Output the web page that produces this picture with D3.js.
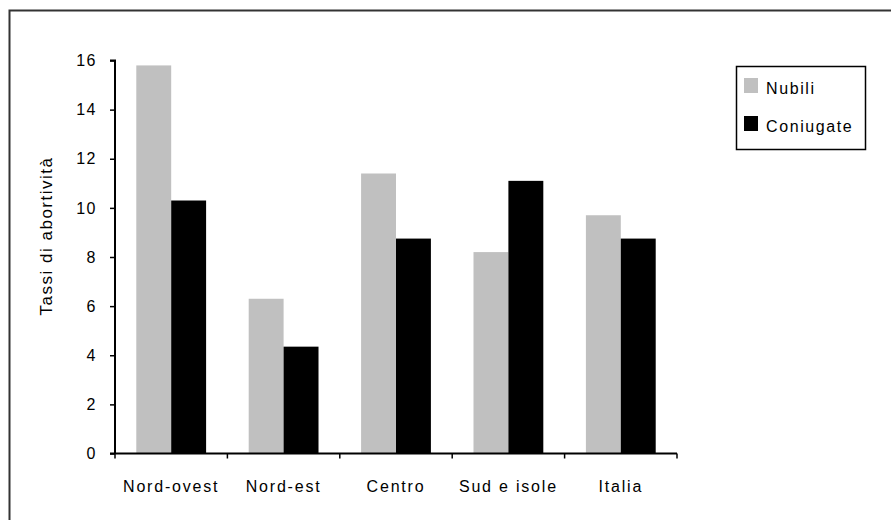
<!DOCTYPE html>
<html>
<head>
<meta charset="utf-8">
<script src="https://cdn.jsdelivr.net/npm/d3@7"></script>
<style>
  html, body { margin: 0; padding: 0; background: #fff; }
  svg { display: block; font-family: "Liberation Sans", Arial, sans-serif; }
</style>
</head>
<body>
<svg id="chart" width="891" height="520"></svg>
<script>
// Tassi di abortività per area geografica e stato civile
const categories = ["Nord-ovest", "Nord-est", "Centro", "Sud e isole", "Italia"];
const nubili = [15.8, 6.3, 11.4, 8.2, 9.7];
const coniugate = [10.3, 4.35, 8.75, 11.1, 8.75];
const seriesNames = ["Nubili", "Coniugate"];
const seriesColors = ["#c0c0c0", "#000000"];
const yTicks = [0, 2, 4, 6, 8, 10, 12, 14, 16];

const FONT = "'Liberation Sans', Arial, sans-serif";
const svg = d3.select("#chart");

// outer frame (runs past the right and bottom edges)
svg.append("rect")
  .attr("x", 9.5).attr("y", 10.5)
  .attr("width", 900).attr("height", 540)
  .attr("fill", "none").attr("stroke", "#333").attr("stroke-width", 2);

const plot = { left: 115, right: 677, top: 60.5, bottom: 453.5 };

const x = d3.scaleBand().domain(categories)
  .range([plot.left, plot.right]).paddingInner(0).paddingOuter(0);
const xInner = d3.scaleBand().domain(seriesNames)
  .range([0, x.bandwidth()]).paddingInner(0).paddingOuter(0.61);
const y = d3.scaleLinear().domain([0, 16]).range([plot.bottom, plot.top]);

const rows = categories.map((c, i) => ({ cat: c, vals: [nubili[i], coniugate[i]] }));

const groups = svg.append("g").selectAll("g").data(rows).join("g")
  .attr("transform", d => `translate(${x(d.cat)},0)`);
groups.selectAll("rect")
  .data(d => d.vals.map((v, j) => ({ name: seriesNames[j], v, j })))
  .join("rect")
  .attr("x", d => xInner(d.name))
  .attr("width", xInner.bandwidth())
  .attr("y", d => y(d.v))
  .attr("height", d => y(0) - y(d.v))
  .attr("fill", d => seriesColors[d.j]);

// y axis
const yAxis = svg.append("g")
  .attr("transform", `translate(${plot.left},0)`)
  .call(d3.axisLeft(y).tickValues(yTicks).tickSize(5).tickPadding(13));
yAxis.attr("font-family", FONT).attr("font-size", 16);
yAxis.select(".domain").attr("stroke", "#000").attr("stroke-width", 2)
  .attr("d", `M-5,${plot.top}H0V${plot.bottom}`);
yAxis.selectAll(".tick line").attr("stroke", "#000").attr("stroke-width", 1.5);
yAxis.selectAll(".tick text").attr("fill", "#000").attr("letter-spacing", 1.5);

// x axis with ticks at the category boundaries
const xAxis = svg.append("g").attr("transform", `translate(0,${plot.bottom})`);
xAxis.append("line")
  .attr("x1", plot.left - 5).attr("x2", plot.right)
  .attr("stroke", "#000").attr("stroke-width", 2);
const bounds = categories.map(c => x(c)).concat([x(categories[categories.length - 1]) + x.bandwidth()]);
xAxis.selectAll("line.tk").data(bounds).join("line").attr("class", "tk")
  .attr("x1", d => d).attr("x2", d => d).attr("y1", 0).attr("y2", 5)
  .attr("stroke", "#000").attr("stroke-width", 1.5);
xAxis.selectAll("text").data(categories).join("text")
  .attr("x", d => x(d) + x.bandwidth() / 2)
  .attr("y", 38)
  .attr("text-anchor", "middle")
  .attr("font-size", 16)
  .attr("letter-spacing", 1.8)
  .attr("fill", "#000")
  .text(d => d);

// y axis title
svg.append("text")
  .attr("transform", `translate(52,236) rotate(-90)`)
  .attr("text-anchor", "middle")
  .attr("font-size", 17)
  .attr("letter-spacing", 1.5)
  .attr("fill", "#000")
  .text("Tassi di abortività");

// legend
const legend = svg.append("g").attr("transform", "translate(736,66)");
legend.append("rect").attr("x", 0.5).attr("y", 0.5).attr("width", 129).attr("height", 83)
  .attr("fill", "#fff").attr("stroke", "#000").attr("stroke-width", 1.5);
const items = legend.selectAll("g.item").data(seriesNames).join("g").attr("class", "item")
  .attr("transform", (d, i) => `translate(8,${12 + i * 38})`);
items.append("rect").attr("width", 14).attr("height", 15)
  .attr("fill", (d, i) => seriesColors[i]);
items.append("text").attr("x", 22).attr("y", 16)
  .attr("font-size", 16).attr("letter-spacing", 1.6).attr("fill", "#000")
  .text(d => d);
</script>
</body>
</html>
